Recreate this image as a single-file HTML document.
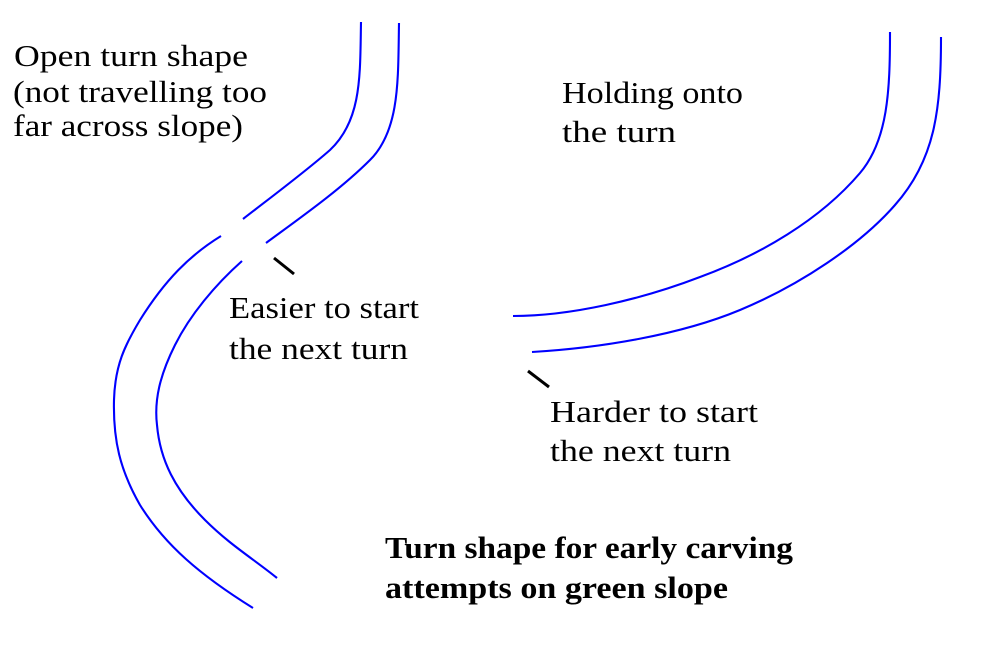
<!DOCTYPE html>
<html>
<head>
<meta charset="utf-8">
<style>
  html,body{margin:0;padding:0;background:#fff;}
  svg{display:block;}
  text{font-family:"Liberation Serif",serif;font-size:31px;fill:#000;}
  .b{font-weight:bold;}
</style>
</head>
<body>
<svg width="1000" height="667" viewBox="0 0 1000 667" xmlns="http://www.w3.org/2000/svg">
  <rect width="1000" height="667" fill="#fff"/>
  <g fill="none" stroke="#0000ff" stroke-width="2.1" stroke-linecap="butt">
    <!-- left pair, line A -->
    <path d="M361,22 C360,75 362,120 330,150 C305,172 270,198 243,219"/>
    <path d="M221,236 C190,255 165,280 140,320 C125,345 115,365 114,400 C113,440 120,470 140,505 C165,545 200,575 253,608"/>
    <!-- left pair, line B -->
    <path d="M399,23 C398,80 400,130 370,160 C340,190 300,218 266,243"/>
    <path d="M242,261 C215,285 190,315 175,345 C160,375 154,400 157,425 C160,460 175,490 205,520 C230,545 255,560 277,578"/>
    <!-- right pair -->
    <path d="M890,32 C890,90 888,140 860,173 C820,220 760,255 700,277 C640,300 570,316 513,316"/>
    <path d="M941,37 C941,110 935,160 895,205 C860,245 800,285 740,310 C680,335 600,348 532,352"/>
  </g>
  <g stroke="#000" stroke-width="3">
    <line x1="274" y1="258" x2="294" y2="274"/>
    <line x1="528" y1="371" x2="549" y2="387"/>
  </g>
  <text x="14" y="66" textLength="234" lengthAdjust="spacingAndGlyphs">Open turn shape</text>
  <text x="13" y="102" textLength="254" lengthAdjust="spacingAndGlyphs">(not travelling too</text>
  <text x="13" y="136" textLength="230" lengthAdjust="spacingAndGlyphs">far across slope)</text>

  <text x="562" y="103" textLength="181" lengthAdjust="spacingAndGlyphs">Holding onto</text>
  <text x="562" y="142" textLength="114" lengthAdjust="spacingAndGlyphs">the turn</text>

  <text x="229" y="318" textLength="190" lengthAdjust="spacingAndGlyphs">Easier to start</text>
  <text x="229" y="359" textLength="179" lengthAdjust="spacingAndGlyphs">the next turn</text>

  <text x="550" y="422" textLength="208" lengthAdjust="spacingAndGlyphs">Harder to start</text>
  <text x="550" y="461" textLength="181" lengthAdjust="spacingAndGlyphs">the next turn</text>

  <text class="b" x="385" y="558" textLength="408" lengthAdjust="spacingAndGlyphs">Turn shape for early carving</text>
  <text class="b" x="385" y="598" textLength="343" lengthAdjust="spacingAndGlyphs">attempts on green slope</text>
</svg>
</body>
</html>
